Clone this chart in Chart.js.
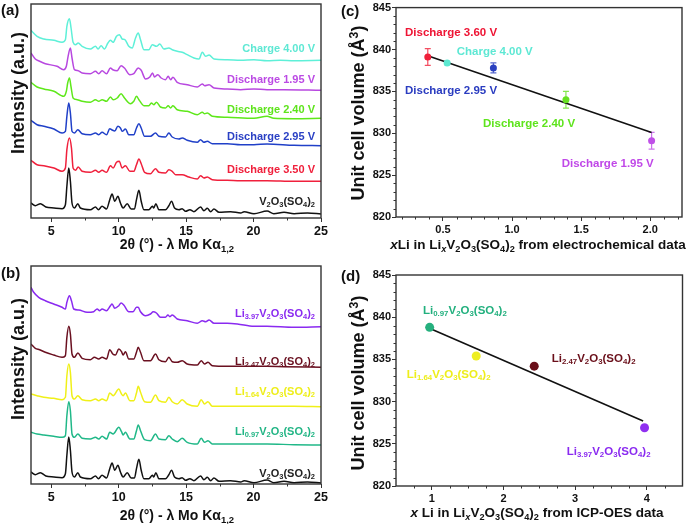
<!DOCTYPE html>
<html><head><meta charset="utf-8">
<script src="https://cdn.jsdelivr.net/npm/chart.js@4.4.1/dist/chart.umd.min.js"></script>
<style>
body{margin:0;background:#fff;}
#wrap{position:relative;width:687px;height:524px;overflow:hidden;font-family:"Liberation Sans",Arial,sans-serif;font-weight:bold;color:#111;}
canvas{position:absolute;}
.t{position:absolute;white-space:nowrap;line-height:1;}
.c{transform:translate(-50%,-50%);}
.r{transform:translate(-50%,-50%) rotate(-90deg);}
sub{font-size:0.68em;vertical-align:-0.3em;line-height:0;}
sup{font-size:0.68em;vertical-align:0.5em;line-height:0;}
</style></head>
<body><div id="wrap">
<canvas id="ca" width="340" height="262" style="left:0;top:0"></canvas>
<canvas id="cb" width="340" height="262" style="left:0;top:262px"></canvas>
<canvas id="cc" width="347" height="262" style="left:340px;top:0"></canvas>
<canvas id="cd" width="347" height="262" style="left:340px;top:262px"></canvas>

<div class="t" style="left:1px;top:2px;font-size:15px">(a)</div>
<div class="t" style="left:1px;top:265px;font-size:15px">(b)</div>
<div class="t" style="left:341px;top:3px;font-size:15px">(c)</div>
<div class="t" style="left:341px;top:268px;font-size:15px">(d)</div>

<div class="t r" style="left:18px;top:93px;font-size:18px">Intensity (a.u.)</div>
<div class="t r" style="left:18px;top:359px;font-size:18px">Intensity (a.u.)</div>
<div class="t r" style="left:358px;top:113px;font-size:18px">Unit cell volume (Å<sup>3</sup>)</div>
<div class="t r" style="left:358px;top:383px;font-size:18px">Unit cell volume (Å<sup>3</sup>)</div>

<div class="t c" style="left:177px;top:244px;font-size:14px">2θ (°) - λ Mo Kα<sub>1,2</sub></div>
<div class="t c" style="left:177px;top:515px;font-size:14px">2θ (°) - λ Mo Kα<sub>1,2</sub></div>
<div class="t c" style="left:538px;top:245px;font-size:13.5px"><i>x</i>Li in Li<sub><i>x</i></sub>V<sub>2</sub>O<sub>3</sub>(SO<sub>4</sub>)<sub>2</sub> from electrochemical data</div>
<div class="t c" style="left:537px;top:513px;font-size:13.5px"><i>x</i> Li in Li<sub><i>x</i></sub>V<sub>2</sub>O<sub>3</sub>(SO<sub>4</sub>)<sub>2</sub> from ICP-OES data</div>

<div class="t" style="right:372px;top:42.8px;font-size:11px;color:#5ee8d4">Charge 4.00 V</div>
<div class="t" style="right:372px;top:73.8px;font-size:11px;color:#bb4ae4">Discharge 1.95 V</div>
<div class="t" style="right:372px;top:103.8px;font-size:11px;color:#5ee41c">Discharge 2.40 V</div>
<div class="t" style="right:372px;top:131.2px;font-size:11px;color:#2a40c4">Discharge 2.95 V</div>
<div class="t" style="right:372px;top:163.8px;font-size:11px;color:#f0203c">Discharge 3.50 V</div>
<div class="t" style="right:372px;top:196px;font-size:11px;color:#222">V<sub>2</sub>O<sub>3</sub>(SO<sub>4</sub>)<sub>2</sub></div>

<div class="t" style="right:372px;top:307.5px;font-size:11px;color:#8a2af0">Li<sub>3.97</sub>V<sub>2</sub>O<sub>3</sub>(SO<sub>4</sub>)<sub>2</sub></div>
<div class="t" style="right:372px;top:356px;font-size:11px;color:#6a1020">Li<sub>2.47</sub>V<sub>2</sub>O<sub>3</sub>(SO<sub>4</sub>)<sub>2</sub></div>
<div class="t" style="right:372px;top:386px;font-size:11px;color:#eeee1a">Li<sub>1.64</sub>V<sub>2</sub>O<sub>3</sub>(SO<sub>4</sub>)<sub>2</sub></div>
<div class="t" style="right:372px;top:426px;font-size:11px;color:#22b585">Li<sub>0.97</sub>V<sub>2</sub>O<sub>3</sub>(SO<sub>4</sub>)<sub>2</sub></div>
<div class="t" style="right:372px;top:467.5px;font-size:11px;color:#222">V<sub>2</sub>O<sub>3</sub>(SO<sub>4</sub>)<sub>2</sub></div>

<div class="t" style="left:405px;top:26.5px;font-size:11.5px;color:#ee1434">Discharge 3.60 V</div>
<div class="t" style="left:456.7px;top:46px;font-size:11.5px;color:#5ee8d4">Charge 4.00 V</div>
<div class="t" style="left:405px;top:85px;font-size:11.5px;color:#2a3cc0">Discharge 2.95 V</div>
<div class="t" style="left:483px;top:117.5px;font-size:11.5px;color:#5ee41c">Discharge 2.40 V</div>
<div class="t" style="left:561.7px;top:157.5px;font-size:11.5px;color:#c048e8">Discharge 1.95 V</div>

<div class="t" style="left:423px;top:304.5px;font-size:11.5px;color:#22b07e">Li<sub>0.97</sub>V<sub>2</sub>O<sub>3</sub>(SO<sub>4</sub>)<sub>2</sub></div>
<div class="t" style="left:406.7px;top:369px;font-size:11.5px;color:#eeee1a">Li<sub>1.64</sub>V<sub>2</sub>O<sub>3</sub>(SO<sub>4</sub>)<sub>2</sub></div>
<div class="t" style="left:551.7px;top:353px;font-size:11.5px;color:#6a0f1a">Li<sub>2.47</sub>V<sub>2</sub>O<sub>3</sub>(SO<sub>4</sub>)<sub>2</sub></div>
<div class="t" style="left:566.7px;top:446px;font-size:11.5px;color:#8a2af0">Li<sub>3.97</sub>V<sub>2</sub>O<sub>3</sub>(SO<sub>4</sub>)<sub>2</sub></div>
</div>
<script>
// ---------- DATA ----------
// XRD patterns: [2theta (deg), stacked intensity (a.u.)]
const pristine = [[3.5,15],[3.82,12.3],[4.2,14.3],[4.6,11],[5.2,10],[5.8,9.3],[6.05,13.3],[6.16,31.7],[6.3,50],[6.42,36.7],[6.54,15],[6.72,10],[6.97,14.3],[7.16,10],[7.9,8.3],[8.28,11],[8.5,8.3],[8.77,11.7],[9.1,9],[9.34,18.3],[9.51,24],[9.71,16.7],[9.94,21.7],[10.13,15],[10.33,10],[10.63,14.3],[10.93,9],[11.17,9],[11.32,18.3],[11.5,27.7],[11.67,16.7],[11.87,8.3],[12.24,8.3],[12.5,11.7],[12.6,10],[12.76,14.3],[12.98,8.3],[13.47,8.3],[13.72,12.3],[13.92,16.7],[14.14,10],[14.47,8.3],[14.7,9.3],[14.96,6.7],[15.28,8.3],[15.58,6.3],[16.07,11],[16.32,7.3],[16.57,9.7],[16.82,6.3],[17.06,9],[17.44,5.7],[18.3,6.3],[19.05,5],[19.3,6.3],[20.03,4.3],[21.0,7],[21.5,4.3],[22.26,5.7],[23.0,4.3],[24.0,5],[25,4]];
const charge400 = [[3.5,187.7],[3.95,181.7],[4.45,179],[5.2,177.7],[5.8,175.7],[6.05,178.3],[6.16,191.7],[6.35,199.3],[6.47,190],[6.62,175.7],[6.8,173.3],[7.0,175],[7.29,171.7],[7.9,169],[8.28,171.7],[8.47,169],[8.7,172.3],[8.94,169],[9.2,175],[9.39,177.7],[9.59,175.7],[9.84,181.7],[10.06,183.3],[10.26,179],[10.46,178.3],[10.75,171.7],[11.0,170],[11.25,180],[11.45,185],[11.62,178.3],[11.87,168.3],[12.24,168.3],[12.49,173.3],[12.8,171.7],[13.05,174],[13.35,169],[13.72,170],[13.97,168.3],[14.34,166.7],[14.71,165.7],[15.08,163.3],[15.58,160],[15.95,159],[16.2,165.7],[16.45,161.7],[16.7,163],[17.07,159],[18.05,158.3],[19.04,157.7],[20.03,158.3],[21.0,157.3],[21.99,157.7],[23.0,157.3],[25,157.7]];
const dis195 = [[3.5,165],[3.82,159],[4.14,156.7],[4.56,154.3],[5.43,151.7],[5.92,148.3],[6.12,151.7],[6.25,161.7],[6.42,170],[6.54,160],[6.72,148.3],[7.0,147.3],[7.29,145],[7.9,144.3],[8.28,146.7],[8.52,144.3],[8.77,147.3],[9.1,144.3],[9.39,150],[9.56,148.3],[9.89,147.3],[10.18,152.3],[10.43,150],[10.83,143.3],[11.12,144.3],[11.45,150],[11.67,147.7],[11.99,139],[12.31,141],[12.51,145],[12.66,141],[12.9,143.3],[13.15,140],[13.47,138.3],[13.67,141.7],[13.85,138.3],[14.02,140.7],[14.34,135.7],[15.08,133.3],[15.83,131],[16.2,134],[16.37,132.3],[16.7,133.3],[17.07,130],[18.05,129],[19.04,128.3],[20.03,129],[21.0,128.3],[22.25,128.3],[25,127.7]];
const dis240 = [[3.5,135.7],[3.95,131],[4.45,129],[5.2,126.7],[5.92,121.7],[6.12,126.7],[6.22,135],[6.35,140],[6.47,131],[6.62,120],[6.92,118.3],[7.29,116.7],[7.9,115.7],[8.28,118.3],[8.52,116.7],[8.77,118.3],[9.1,116.7],[9.39,121],[9.59,118.3],[9.89,120],[10.18,124.3],[10.43,120],[10.88,114.3],[11.12,116.7],[11.32,121.7],[11.5,118.3],[11.87,112.3],[12.24,112.3],[12.42,115],[12.6,113.3],[12.8,115.7],[13.1,111],[13.47,110],[13.67,112.3],[13.85,110],[14.02,112.3],[14.34,108.3],[15.08,106.7],[15.83,103.3],[16.2,105.7],[16.37,104.3],[16.57,105],[16.94,101.7],[18.05,100.7],[20.03,99.7],[21.0,101.7],[21.5,99.7],[23.0,99.3],[25,99.7]];
const dis295 = [[3.5,97.7],[3.95,93.3],[4.45,91.7],[5.2,89],[5.8,85],[6.05,86.7],[6.16,101.7],[6.3,115],[6.42,105],[6.54,86.7],[6.72,85],[6.97,88.3],[7.29,84.3],[7.9,83.3],[8.28,85],[8.52,83.3],[8.77,85.7],[9.1,83.3],[9.34,89.3],[9.51,88],[9.71,87],[9.94,91.7],[10.13,90],[10.26,86.7],[10.5,89],[10.75,83.3],[11.12,83.3],[11.32,90],[11.5,94.3],[11.67,90],[11.92,81.7],[12.36,81.7],[12.73,85],[12.98,81.7],[13.47,81],[13.72,85],[13.97,81],[14.47,79],[14.71,80],[15.08,77.7],[15.83,75.7],[16.07,78.3],[16.32,75.7],[16.57,76.7],[16.94,74.3],[18.05,74.3],[19.04,73.3],[20.03,73.3],[21.0,74],[23.0,72.7],[25,72.3]];
const dis350 = [[3.5,57.7],[3.95,53.3],[4.45,52.3],[5.2,50],[5.8,46.7],[6.05,50],[6.16,68.3],[6.35,80],[6.5,70],[6.62,50],[6.8,47.7],[7.0,51],[7.29,46.7],[7.9,45.7],[8.28,47.7],[8.52,45.7],[8.77,47.7],[9.1,45.7],[9.39,52.3],[9.59,50],[9.84,55.7],[10.04,56.7],[10.26,50],[10.5,52.3],[10.83,46.7],[11.12,46.7],[11.32,53.3],[11.5,59],[11.67,54.3],[11.92,45.7],[12.36,44.3],[12.73,49.3],[12.98,45.7],[13.47,45],[13.72,48.3],[13.97,46.7],[14.22,43.3],[14.71,43.3],[15.2,41],[15.83,39],[16.07,42.3],[16.32,40],[16.57,41],[16.94,38.3],[18.05,37.7],[19.04,37.3],[21.0,37.3],[23.0,36.7],[25,36.7]];
const li397 = [[3.5,196.7],[3.7,191.7],[4.07,186.7],[4.56,183.3],[5.18,180],[5.8,176.7],[6.05,175],[6.16,181.7],[6.35,188.3],[6.5,183.3],[6.67,175],[7.04,174],[7.66,171.7],[8.15,172.3],[8.4,175],[8.6,173.3],[8.77,175],[9.1,173.3],[9.39,178.3],[9.51,180],[9.71,175.7],[10.01,178.3],[10.18,181],[10.38,179],[10.75,172.3],[11.07,172.3],[11.32,176.7],[11.45,176.7],[11.62,172.3],[11.99,168.3],[12.36,170],[12.56,172.3],[12.8,171],[13.1,166.7],[13.47,166.7],[13.65,169],[13.8,167.3],[13.97,169],[14.34,165],[15.08,163.3],[15.83,160.7],[16.2,163.3],[16.45,162.3],[16.7,164],[17.07,160.7],[18.05,160.7],[18.8,160],[20.03,157.7],[21.0,157.7],[23.0,156.7],[25,157.3]];
const li247 = [[3.5,140],[3.82,135.7],[4.14,134.3],[4.56,131.7],[5.18,129],[5.8,126.7],[6.05,128.3],[6.16,146.7],[6.3,157.7],[6.42,150],[6.54,130],[6.72,126.7],[6.97,131],[7.29,125.7],[7.9,124.3],[8.2,126.7],[8.52,125],[8.77,126.7],[9.1,125],[9.34,134.3],[9.56,130],[9.76,129],[10.01,135],[10.21,132.3],[10.33,129],[10.5,132.3],[10.75,125],[11.12,125],[11.32,131.7],[11.45,136.7],[11.62,131.7],[11.87,123.3],[12.36,123.3],[12.73,130],[12.98,124.3],[13.47,122.3],[13.72,126.7],[13.97,122.3],[14.34,121.7],[14.71,123.3],[15.08,120],[15.83,119],[16.12,123.3],[16.37,120],[16.62,121.7],[16.94,118.3],[18.05,117.7],[19.04,117.7],[21.0,117.7],[22.25,117.3],[25,116.7]];
const li164 = [[3.5,90],[3.95,88.3],[4.45,86.7],[5.18,85.7],[5.8,84.3],[6.05,86.7],[6.16,108.3],[6.3,120],[6.42,111.7],[6.54,88.3],[6.72,85],[6.97,88.3],[7.29,84.3],[7.9,83.3],[8.28,85],[8.52,83.3],[8.77,85],[9.1,83.3],[9.34,91],[9.59,88.3],[10.01,95],[10.21,90],[10.33,88.3],[10.5,91],[10.83,83.3],[11.12,83.3],[11.32,91],[11.45,97.7],[11.62,91.7],[11.92,82.3],[12.36,81.7],[12.73,89],[12.98,83.3],[13.47,81.7],[13.72,86.7],[13.97,82.3],[14.34,80],[14.71,84.3],[15.08,80],[15.83,77.7],[16.12,84.3],[16.37,80],[16.62,82.3],[16.94,77.7],[18.05,77.7],[19.04,77.7],[21.0,77.7],[23.0,77.7],[25,77.3]];
const li097 = [[3.5,51.7],[3.95,50],[4.45,49],[5.18,47.7],[5.8,46.7],[6.05,48.3],[6.16,68.3],[6.3,82.3],[6.42,73.3],[6.54,50],[6.72,46.7],[6.97,50],[7.29,45.7],[7.9,45],[8.28,46.7],[8.52,45],[8.77,47.7],[9.1,45],[9.34,51.7],[9.59,50],[10.01,56.7],[10.21,52.3],[10.33,49],[10.5,51.7],[10.83,45],[11.12,45],[11.32,53.3],[11.45,59],[11.62,53.3],[11.92,44.3],[12.36,43.3],[12.73,50],[12.98,45],[13.47,44.3],[13.72,48.3],[13.97,45],[14.34,42.3],[14.71,45.7],[15.08,41.7],[15.83,40],[16.12,45.7],[16.37,41.7],[16.62,43.3],[16.94,40],[18.05,40],[19.04,40],[21.0,40],[23.0,39.3],[25,39]];
const pristineShiftB = -3;

// Panel (c): unit cell volume vs x from electrochemistry
const cNames = ['Discharge 3.60 V','Charge 4.00 V','Discharge 2.95 V','Discharge 2.40 V','Discharge 1.95 V'];
const cX = [0.39, 0.53, 0.865, 1.39, 2.01];
const cV = [839.1, 838.4, 837.8, 834.0, 829.1];
const cErr = [1.0, 0.2, 0.6, 1.0, 1.0];
const cFitX = [0.40, 2.01];
const cFitV = [839.2, 830.1];
// Panel (d): unit cell volume vs x from ICP-OES
const dNames = ['Li0.97V2O3(SO4)2','Li1.64V2O3(SO4)2','Li2.47V2O3(SO4)2','Li3.97V2O3(SO4)2'];
const dX = [0.97, 1.62, 2.43, 3.97];
const dV = [838.8, 835.4, 834.2, 826.9];
const dFitX = [0.99, 3.95];
const dFitV = [838.6, 827.7];

// tick labels
const xrdTicks = [5, 10, 15, 20, 25];
const xrdMinor = [7.5, 12.5, 17.5, 22.5];
const cXTicks = ['0.5','1.0','1.5','2.0'];
const dXTicks = ['1','2','3','4'];
const volTicks = ['820','825','830','835','840','845'];

// ---------- STYLE ----------
const FONT = '"Liberation Sans", Arial, sans-serif';
Chart.defaults.font.family = FONT;
Chart.defaults.font.weight = 'bold';
Chart.defaults.color = '#111';
Chart.defaults.animation = false;

const extras = {};
const framePlugin = {
  id: 'frame',
  beforeDatasetsDraw(chart) {
    const ex = extras[chart.canvas.id];
    if (!ex || !ex.err) return;
    const {ctx, scales: {x, y}} = chart;
    const e = ex.err;
    ctx.save();
    ctx.lineWidth = 1.2;
    e.x.forEach((xv, i) => {
      const px = x.getPixelForValue(xv);
      const p1 = y.getPixelForValue(e.y[i] - e.e[i]);
      const p2 = y.getPixelForValue(e.y[i] + e.e[i]);
      ctx.strokeStyle = e.c[i];
      ctx.beginPath();
      ctx.moveTo(px, p1); ctx.lineTo(px, p2);
      ctx.moveTo(px - 3, p1); ctx.lineTo(px + 3, p1);
      ctx.moveTo(px - 3, p2); ctx.lineTo(px + 3, p2);
      ctx.stroke();
    });
    ctx.restore();
  },
  afterDraw(chart) {
    const ex = extras[chart.canvas.id] || {};
    const {ctx, chartArea: a, scales: {x, y}} = chart;
    ctx.save();
    ctx.strokeStyle = '#333';
    ctx.lineWidth = 1.4;
    ctx.strokeRect(a.left, a.top, a.right - a.left, a.bottom - a.top);
    ctx.lineWidth = 1;
    ctx.beginPath();
    (ex.xMinor || []).forEach(v => { const px = Math.round(x.getPixelForValue(v)) + 0.5; ctx.moveTo(px, a.bottom); ctx.lineTo(px, a.bottom + 2.5); });
    (ex.yMinor || []).forEach(v => { const py = Math.round(y.getPixelForValue(v)) + 0.5; ctx.moveTo(a.left, py); ctx.lineTo(a.left - 2.5, py); });
    ctx.stroke();
    ctx.restore();
  }
};

const toPts = (arr, dy = 0) => arr.map(p => ({x: p[0], y: p[1] + dy}));
const line = (arr, color, dy) => ({data: toPts(arr, dy), borderColor: color, borderWidth: 1.5, pointRadius: 0, cubicInterpolationMode: 'monotone', fill: false});

function xrdChart(id, sets, ymax, xAxisH) {
  extras[id] = {xMinor: xrdMinor};
  new Chart(document.getElementById(id), {
    type: 'line',
    data: {datasets: sets},
    options: {
      responsive: false, devicePixelRatio: 1, animation: false,
      layout: {padding: {left: 31, top: 4, right: 19, bottom: 0}},
      plugins: {legend: {display: false}, tooltip: {enabled: false}},
      scales: {
        x: {type: 'linear', min: 3.5, max: 25,
            afterBuildTicks: ax => { ax.ticks = xrdTicks.map(v => ({value: v})); },
            afterFit: ax => { ax.height = xAxisH; },
            ticks: {font: {size: 12.5, weight: 'bold'}, color: '#111', padding: 2, maxRotation: 0, callback: v => String(v)},
            grid: {drawOnChartArea: false, drawTicks: true, tickLength: 4, tickColor: '#333', tickWidth: 1},
            border: {display: false}},
        y: {display: false, min: 0, max: ymax}
      }
    },
    plugins: [framePlugin]
  });
}

xrdChart('ca', [
  line(charge400, '#5ef0d8'),
  line(dis195, '#b848e0'),
  line(dis240, '#5ee81a'),
  line(dis295, '#2040c8'),
  line(dis350, '#f0203c'),
  line(pristine, '#111111')
], 214, 44);

xrdChart('cb', [
  line(li397, '#8a2af0'),
  line(li247, '#6a1020'),
  line(li164, '#f0f018'),
  line(li097, '#20b888'),
  line(pristine, '#111111', pristineShiftB)
], 218, 40);

function volChart(id, xs, vs, cols, radius, fitX, fitV, xmin, xmax, xTicks, xMinor, errs, top, xAxisH, padRight) {
  extras[id] = {xMinor, yMinor: [], err: errs ? {x: xs, y: vs, e: errs, c: cols.map(c => c + 'cc')} : null};
  for (let v = 821; v < 845; v++) if (v % 5) extras[id].yMinor.push(v);
  new Chart(document.getElementById(id), {
    type: 'scatter',
    data: {datasets: [
      {data: xs.map((x, i) => ({x, y: vs[i]})), pointRadius: radius, pointHoverRadius: radius, pointBackgroundColor: cols, pointBorderWidth: 0, borderWidth: 0},
      {data: fitX.map((x, i) => ({x, y: fitV[i]})), showLine: true, borderColor: '#111', borderWidth: 1.6, pointRadius: 0}
    ]},
    options: {
      responsive: false, devicePixelRatio: 1, animation: false,
      layout: {padding: {left: 0, top: top, right: padRight, bottom: 0}},
      plugins: {legend: {display: false}, tooltip: {enabled: false}},
      scales: {
        x: {type: 'linear', min: xmin, max: xmax,
            afterBuildTicks: ax => { ax.ticks = xTicks.map(v => ({value: parseFloat(v)})); },
            afterFit: ax => { ax.height = xAxisH; },
            ticks: {font: {size: 11, weight: 'bold'}, color: '#111', padding: 2, maxRotation: 0,
                    callback: (v, i) => xTicks[i]},
            grid: {drawOnChartArea: false, tickLength: 4, tickColor: '#333'},
            border: {display: false}},
        y: {type: 'linear', min: 820, max: 845,
            afterBuildTicks: ax => { ax.ticks = volTicks.map(v => ({value: parseFloat(v)})); },
            afterFit: ax => { ax.width = 56; },
            ticks: {font: {size: 11, weight: 'bold'}, color: '#111', padding: 1, callback: (v, i) => volTicks[i]},
            grid: {drawOnChartArea: false, tickLength: 4, tickColor: '#333'},
            border: {display: false}}
      }
    },
    plugins: [framePlugin]
  });
}

const cMinor = [];
for (let k = 2; k <= 22; k++) if (k % 5) cMinor.push(k / 10);
const dMinor = [];
for (let k = 3; k <= 17; k++) if (k % 4) dMinor.push(k / 4);

volChart('cc', cX, cV, ['#f0203a', '#5ce8d0', '#2a40c0', '#66e020', '#c050e8'], 3.5,
  cFitX, cFitV, 0.16, 2.23, cXTicks, cMinor, cErr, 6, 45, 5);
volChart('cd', dX, dV, ['#26b07e', '#eeee22', '#6a0f1a', '#9030f0'], 4.5,
  dFitX, dFitV, 0.5, 4.5, dXTicks, dMinor, null, 13, 38, 4);
</script>
</body></html>
